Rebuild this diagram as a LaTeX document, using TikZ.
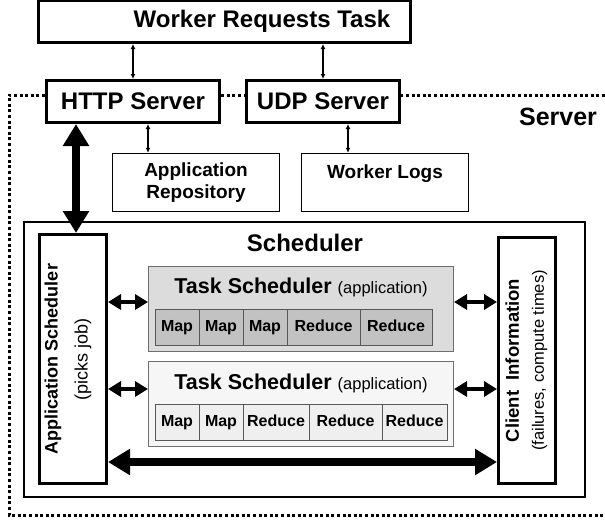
\documentclass[tikz,border=0pt]{standalone}
\usepackage{fontspec}
\usepackage{graphicx}
\setmainfont{Liberation Sans}
\usetikzlibrary{arrows.meta,positioning,calc}
\definecolor{panelA}{HTML}{DCDCDC}
\definecolor{cellA}{HTML}{C2C2C2}
\definecolor{panelB}{HTML}{F6F6F6}
\definecolor{cellB}{HTML}{EFEFEF}
\definecolor{edge}{HTML}{6E6E6E}
\tikzset{
  bigbox/.style={draw,line width=3pt,fill=white,inner sep=0pt,minimum height=42pt,font=\fontsize{24}{28}\selectfont\bfseries},
  store/.style={draw,line width=1.5pt,fill=white,inner sep=0pt,align=center,minimum width=167pt,minimum height=58pt,font=\fontsize{19}{22}\selectfont\bfseries},
  sidebox/.style={draw,line width=3pt,fill=white,inner sep=0pt},
  taskbox/.style={draw=edge,line width=1pt,inner sep=0pt,minimum width=305pt,minimum height=85pt},
  cell/.style={draw=edge!80!black,line width=1pt,inner sep=0pt,outer sep=0pt,minimum height=36pt,text height=11.5pt,text depth=3.5pt,font=\fontsize{16}{18}\selectfont\bfseries},
  tasktitle/.style={font=\fontsize{21.5}{24}\selectfont},
  title/.style={font=\fontsize{24}{28}\selectfont\bfseries},
  link/.style={{Latex[length=5pt,width=5pt]}-{Latex[length=5pt,width=5pt]},line width=1.2pt},
  midlink/.style={{Triangle[length=13pt,width=15pt]}-{Triangle[length=13pt,width=15pt]},line width=4pt},
  widelink/.style={{Triangle[length=22pt,width=25pt]}-{Triangle[length=22pt,width=25pt]},line width=8pt},
  serverline/.style={line width=3pt,dash pattern=on 3pt off 2.6pt}
}

\begin{document}
\begin{tikzpicture}[x=1pt,y=-1pt]
  \useasboundingbox (0,0) rectangle (605,523);

  % server region, open on the right
  \draw[serverline] (605,95) -- (9,95) -- (9,515) -- (605,515);
  \node[title,font=\fontsize{25}{28}\selectfont\bfseries] (serverlabel) at (558,117) {Server};

  \node[bigbox,minimum width=372pt] (worker) at (224.5,21.5) {\hspace*{75pt}Worker Requests Task};
  \node[bigbox,minimum width=173pt] (http) at (133,101.5) {HTTP Server};
  \node[bigbox,minimum width=153pt] (udp) at (323,101.5) {UDP Server};

  \node[store] (repo) at (196,182.5) {Application\\Repository};
  \node[store] (logs) at (385,182.5) {Worker Logs\\\mbox{}};

  \node[draw,line width=2pt,inner sep=0pt,minimum width=561pt,minimum height=275pt] (sched) at (304.5,359.5) {};
  \node[title] (schedlabel) at (305,243) {Scheduler};

  \node[sidebox,minimum width=67pt,minimum height=249pt,font=\fontsize{18}{25}\selectfont] (appsched) at (73,359)
    {\rotatebox{90}{\begin{tabular}{@{}c@{}}\textbf{Application Scheduler}\\[5pt](picks job)\\[11pt]\end{tabular}}};
  \node[sidebox,minimum width=57pt,minimum height=246pt,font=\fontsize{16.5}{22}\selectfont] (client) at (527,360.5)
    {\rotatebox{90}{\begin{tabular}{@{}c@{}}\fontsize{18.5}{22}\selectfont\textbf{Client\ \ Information}\\[3pt](failures, compute times)\end{tabular}}};

  % first task scheduler
  \node[taskbox,fill=panelA] (ts1) at (301,309) {};
  \node[tasktitle] (ts1title) at (301,287) {\textbf{Task Scheduler} {\fontsize{16.5}{20}\selectfont(application)}};
  \node[cell,fill=cellA,minimum width=44pt,anchor=west] (a1) at (155,327.5) {Map};
  \node[cell,fill=cellA,minimum width=44pt,right=0pt of a1] (a2) {Map};
  \node[cell,fill=cellA,minimum width=44pt,right=0pt of a2] (a3) {Map};
  \node[cell,fill=cellA,minimum width=73pt,right=0pt of a3] (a4) {Reduce};
  \node[cell,fill=cellA,minimum width=72pt,right=0pt of a4] (a5) {Reduce};

  % second task scheduler
  \node[taskbox,fill=panelB] (ts2) at (301,404) {};
  \node[tasktitle] (ts2title) at (301,383) {\textbf{Task Scheduler} {\fontsize{16.5}{20}\selectfont(application)}};
  \node[cell,fill=cellB,minimum width=44pt,anchor=west] (b1) at (155,422) {Map};
  \node[cell,fill=cellB,minimum width=44pt,right=0pt of b1] (b2) {Map};
  \node[cell,fill=cellB,minimum width=66pt,right=0pt of b2] (b3) {Reduce};
  \node[cell,fill=cellB,minimum width=73pt,right=0pt of b3] (b4) {Reduce};
  \node[cell,fill=cellB,minimum width=65pt,right=0pt of b4] (b5) {Reduce};

  \draw[link] (worker.south -| http.north) -- (http.north);
  \draw[link] (worker.south -| udp.north) -- (udp.north);
  \draw[link] ([xshift=15pt]http.south) -- ([xshift=15pt]http.south |- repo.north);
  \draw[link] ([xshift=25pt]udp.south) -- ([xshift=25pt]udp.south |- logs.north);
  \draw[widelink] ([xshift=-57pt]http.south) -- ([xshift=-57pt]http.south |- appsched.north);

  \draw[midlink] ([yshift=7pt]ts1.west -| appsched.east) -- ([yshift=7pt]ts1.west);
  \draw[midlink] ([yshift=7pt]ts1.east) -- ([yshift=7pt]ts1.east -| client.west);
  \draw[midlink] ([yshift=15pt]ts2.west -| appsched.east) -- ([yshift=15pt]ts2.west);
  \draw[midlink] ([yshift=15pt]ts2.east) -- ([yshift=15pt]ts2.east -| client.west);
  \draw[widelink] ([yshift=-103pt]appsched.east) -- ([yshift=-103pt]appsched.east -| client.west);
\end{tikzpicture}
\end{document}
